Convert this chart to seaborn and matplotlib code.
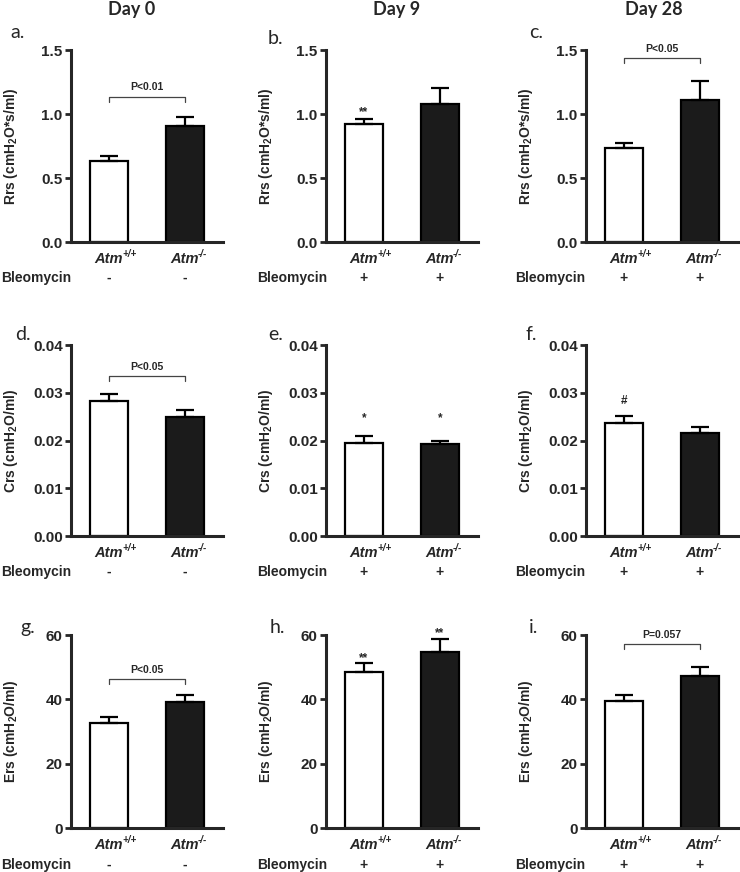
import matplotlib
matplotlib.use("Agg")
import matplotlib.pyplot as plt
import matplotlib.transforms as mtransforms
import pandas as pd
import seaborn as sns

# groups / labels
genotypes = ["Atm+/+", "Atm-/-"]
genotype_base = "Atm"
genotype_sup = ["+/+", "-/-"]
days = ["Day 0", "Day 9", "Day 28"]
bleomycin = ["-", "+", "+"]
panel_letters = [["a.", "b.", "c."], ["d.", "e.", "f."], ["g.", "h.", "i."]]
ylabels = [r"Rrs (cmH$_2$O*s/ml)", r"Crs (cmH$_2$O/ml)", r"Ers (cmH$_2$O/ml)"]

# mean +/- SEM per day (rows: day 0, 9, 28; columns: Atm+/+, Atm-/-)
rrs_mean = [[0.635, 0.905], [0.92, 1.075], [0.735, 1.11]]
rrs_sem = [[0.035, 0.07], [0.04, 0.13], [0.04, 0.145]]
crs_mean = [[0.0283, 0.0250], [0.0194, 0.0192], [0.0236, 0.0216]]
crs_sem = [[0.0014, 0.0014], [0.0016, 0.0008], [0.0016, 0.0013]]
ers_mean = [[32.7, 39.2], [48.5, 54.7], [39.4, 47.1]]
ers_sem = [[1.8, 2.2], [2.8, 4.0], [2.1, 3.0]]

rrs_ticks = [0.0, 0.5, 1.0, 1.5]
crs_ticks = [0.0, 0.01, 0.02, 0.03, 0.04]
ers_ticks = [0, 20, 40, 60]
tick_fmt = ["{:.1f}", "{:.2f}", "{:.0f}"]

# significance brackets (None = no bracket)
p_text = [["P<0.01", None, "P<0.05"], ["P<0.05", None, None], ["P<0.05", None, "P=0.057"]]
p_level = [[1.135, None, 1.437], [0.0335, None, None], [46.2, None, 57.2]]

# marks above single bars vs day 0 (text, baseline value)
mark_text = [[[None, None], ["**", None], [None, None]],
             [[None, None], ["*", "*"], ["#", None]],
             [[None, None], ["**", "**"], [None, None]]]
mark_y = [[[None, None], [0.993, None], [None, None]],
          [[None, None], [0.0240, 0.0240], [0.0276, None]],
          [[None, None], [52.0, 59.6], [None, None]]]

sns.set_style("ticks")
plt.rcParams["font.family"] = ["Liberation Sans", "DejaVu Sans"]
plt.rcParams["mathtext.fontset"] = "custom"
plt.rcParams["mathtext.rm"] = "Liberation Sans:bold"
plt.rcParams["mathtext.bf"] = "Liberation Sans:bold"
plt.rcParams["mathtext.it"] = "Liberation Sans:italic:bold"

W, H = 740, 872
fig = plt.figure(figsize=(W / 100, H / 100), dpi=100)

col_left = [71, 326, 586]
row_span = [(50, 242), (345, 536), (635, 828)]
sign_y = [278, 572, 865]
bleo_x = [1, 257, 515]
title_x = [132, 397, 654]
letter_pos = [[(10, 32), (268, 38), (529, 33)],
              [(15, 335), (268, 335), (526, 335)],
              [(20, 627), (270, 627), (529, 627)]]

means = [rrs_mean, crs_mean, ers_mean]
sems = [rrs_sem, crs_sem, ers_sem]
ticks = [rrs_ticks, crs_ticks, ers_ticks]

for r in range(3):
    top, bottom = row_span[r]
    for c in range(3):
        ax = fig.add_axes([col_left[c] / W, 1 - bottom / H, 152 / W, (bottom - top) / H])
        df = pd.DataFrame({"genotype": genotypes, "value": means[r][c]})
        sns.barplot(data=df, x="genotype", y="value", hue="genotype",
                    palette={genotypes[0]: "white", genotypes[1]: "#1b1b1b"},
                    saturation=1, legend=False, width=0.5, errorbar=None,
                    edgecolor="black", linewidth=1.6, ax=ax, zorder=2)
        ax.errorbar([0, 1], means[r][c], yerr=[[0, 0], sems[r][c]], fmt="none",
                    ecolor="black", elinewidth=1.6, capsize=6.5, capthick=1.6, zorder=3)

        ax.set_xlim(-0.5, 1.5)
        ax.set_ylim(0, ticks[r][-1])
        ax.set_yticks(ticks[r])
        ax.set_yticklabels([tick_fmt[r].format(t) for t in ticks[r]],
                           fontsize=11, fontweight="bold")
        ax.set_xticks([0, 1])
        ax.set_xticklabels([genotype_base] * 2, fontsize=10.5, fontweight="bold",
                           fontstyle="italic")
        ax.tick_params(axis="x", length=0, pad=7)
        ax.tick_params(axis="y", length=4, width=2, pad=2)
        ax.set_xlabel("")
        ax.set_ylabel(ylabels[r], fontsize=10, fontweight="bold")
        ax.yaxis.set_label_coords(-0.335, 0.5)
        for side in ["top", "right"]:
            ax.spines[side].set_visible(False)
        for side in ["left", "bottom"]:
            ax.spines[side].set_linewidth(2.2)

        # genotype superscripts next to the "Atm" tick labels
        xtrans = mtransforms.blended_transform_factory(ax.transData, ax.transAxes)
        for i in range(2):
            ax.annotate(genotype_sup[i], xy=(i, 0), xycoords=xtrans,
                        xytext=(9.3, -8.5), textcoords="offset points",
                        ha="left", va="center", fontsize=7, fontweight="bold",
                        fontstyle="italic", annotation_clip=False)

        # bracket with p value
        if p_text[r][c] is not None:
            lvl = p_level[r][c]
            leg = ticks[r][-1] * 0.025
            ax.plot([0, 0, 1, 1], [lvl - leg, lvl, lvl, lvl - leg],
                    color="#444444", lw=0.9, clip_on=False)
            ax.annotate(p_text[r][c], xy=(0.5, lvl), xytext=(0, 4.5),
                        textcoords="offset points", ha="center", va="baseline",
                        fontsize=7.5, fontweight="bold", annotation_clip=False)

        for i in range(2):
            if mark_text[r][c][i] is not None:
                ax.text(i, mark_y[r][c][i], mark_text[r][c][i], ha="center",
                        va="baseline", fontsize=8.5, fontweight="bold", clip_on=False)

        # bleomycin row
        trans = mtransforms.blended_transform_factory(ax.transData, fig.transFigure)
        for i in range(2):
            ax.text(i, 1 - sign_y[r] / H, bleomycin[c], transform=trans,
                    ha="center", va="center", fontsize=10, fontweight="bold")
        fig.text(bleo_x[c] / W, 1 - sign_y[r] / H, "Bleomycin", ha="left",
                 va="center", fontsize=10, fontweight="bold")

        lx, ly = letter_pos[r][c]
        fig.text(lx / W, 1 - ly / H, panel_letters[r][c], ha="left", va="center",
                 fontsize=14, family="Lato")

for c in range(3):
    fig.text(title_x[c] / W, 1 - 9 / H, days[c], ha="center", va="center",
             fontsize=13, fontweight="bold", family="Lato")

fig.savefig("out.png", dpi=100)
